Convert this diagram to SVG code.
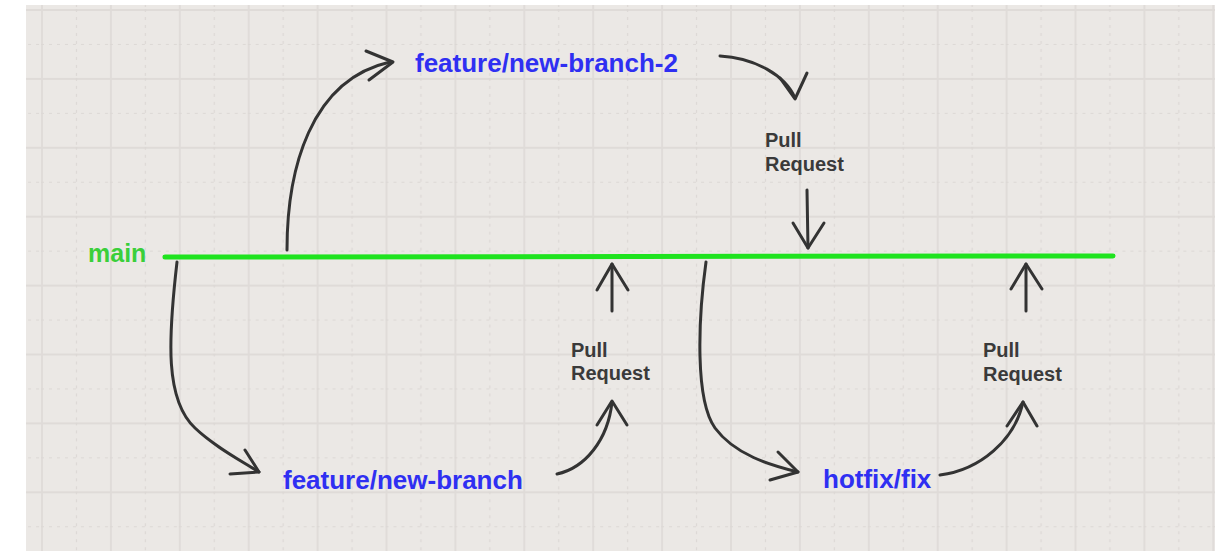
<svg xmlns="http://www.w3.org/2000/svg" width="1223" height="551" viewBox="0 0 1223 551">
  <defs>
    <pattern id="grid" patternUnits="userSpaceOnUse" x="41" y="9" width="68.9" height="68.9">
      <line x1="1" y1="0" x2="1" y2="68.9" stroke="#dfdbd8" stroke-width="1.8"/>
      <line x1="0" y1="1" x2="68.9" y2="1" stroke="#dfdbd8" stroke-width="1.8"/>
      <line x1="35.45" y1="0" x2="35.45" y2="68.9" stroke="#dcd8d5" stroke-width="1.2" stroke-dasharray="3 5"/>
      <line x1="0" y1="35.45" x2="68.9" y2="35.45" stroke="#dcd8d5" stroke-width="1.2" stroke-dasharray="3 5"/>
    </pattern>
  </defs>
  <style>
    .conn { fill: none; stroke: #333333; stroke-width: 3; stroke-linecap: round; stroke-linejoin: round; }
    .branch { font-family: "Liberation Sans", Arial, sans-serif; font-weight: bold; font-size: 26px; fill: #2f2ff2; }
    .pr { font-family: "Liberation Sans", Arial, sans-serif; font-weight: bold; font-size: 20px; fill: #3a3a3a; }
    .main { font-family: "Liberation Sans", Arial, sans-serif; font-weight: bold; font-size: 25px; fill: #3acf3a; }
  </style>
  <rect x="0" y="0" width="1223" height="551" fill="#ffffff"/>
  <rect x="26" y="5" width="1189" height="546" fill="#ebe8e5"/>
  <rect x="26" y="5" width="1189" height="546" fill="url(#grid)"/>

  <g id="main">
    <line x1="165" y1="257" x2="1113" y2="256" stroke="#1ee31e" stroke-width="5" stroke-linecap="round"/>
    <text class="main" x="88" y="262">main</text>
  </g>

  <g id="connectors">
    <path class="conn" d="M287,250 C 287,170 310,80 390,62"/>
    <path class="conn" d="M366,51 L393,62 L369,80"/>
    <path class="conn" d="M720,56 C 755,58 785,75 795,98"/>
    <path class="conn" d="M780,78 L795,99 L807,73"/>
    <path class="conn" d="M807,190 L808,248"/>
    <path class="conn" d="M793,223 L808,248 L824,223"/>
    <path class="conn" d="M177,262 C 168,340 165,400 195,428 C 215,447 240,460 259,472"/>
    <path class="conn" d="M245,450 L259,472 L230,474"/>
    <path class="conn" d="M612,311 L612,264"/>
    <path class="conn" d="M597,290 L612,264 L628,290"/>
    <path class="conn" d="M557,474 C 585,468 608,440 612,402"/>
    <path class="conn" d="M597,425 L612,401 L627,425"/>
    <path class="conn" d="M706,262 C 698,320 695,400 715,428 C 735,455 770,465 798,472"/>
    <path class="conn" d="M778,452 L798,472 L770,480"/>
    <path class="conn" d="M1026,311 L1026,264"/>
    <path class="conn" d="M1011,289 L1026,264 L1042,289"/>
    <path class="conn" d="M940,475 C 980,470 1015,440 1023,402"/>
    <path class="conn" d="M1007,426 L1023,402 L1037,426"/>
  </g>

  <g id="feature-new-branch-2">
    <text class="branch" x="415" y="72">feature/new-branch-2</text>
  </g>
  <g id="feature-new-branch">
    <text class="branch" x="283" y="489">feature/new-branch</text>
  </g>
  <g id="hotfix-fix">
    <text class="branch" x="823" y="488">hotfix/fix</text>
  </g>
  <g id="pr-1">
    <text class="pr" x="765" y="147">Pull</text>
    <text class="pr" x="765" y="171">Request</text>
  </g>
  <g id="pr-2">
    <text class="pr" x="571" y="357">Pull</text>
    <text class="pr" x="571" y="380">Request</text>
  </g>
  <g id="pr-3">
    <text class="pr" x="983" y="357">Pull</text>
    <text class="pr" x="983" y="381">Request</text>
  </g>
</svg>
